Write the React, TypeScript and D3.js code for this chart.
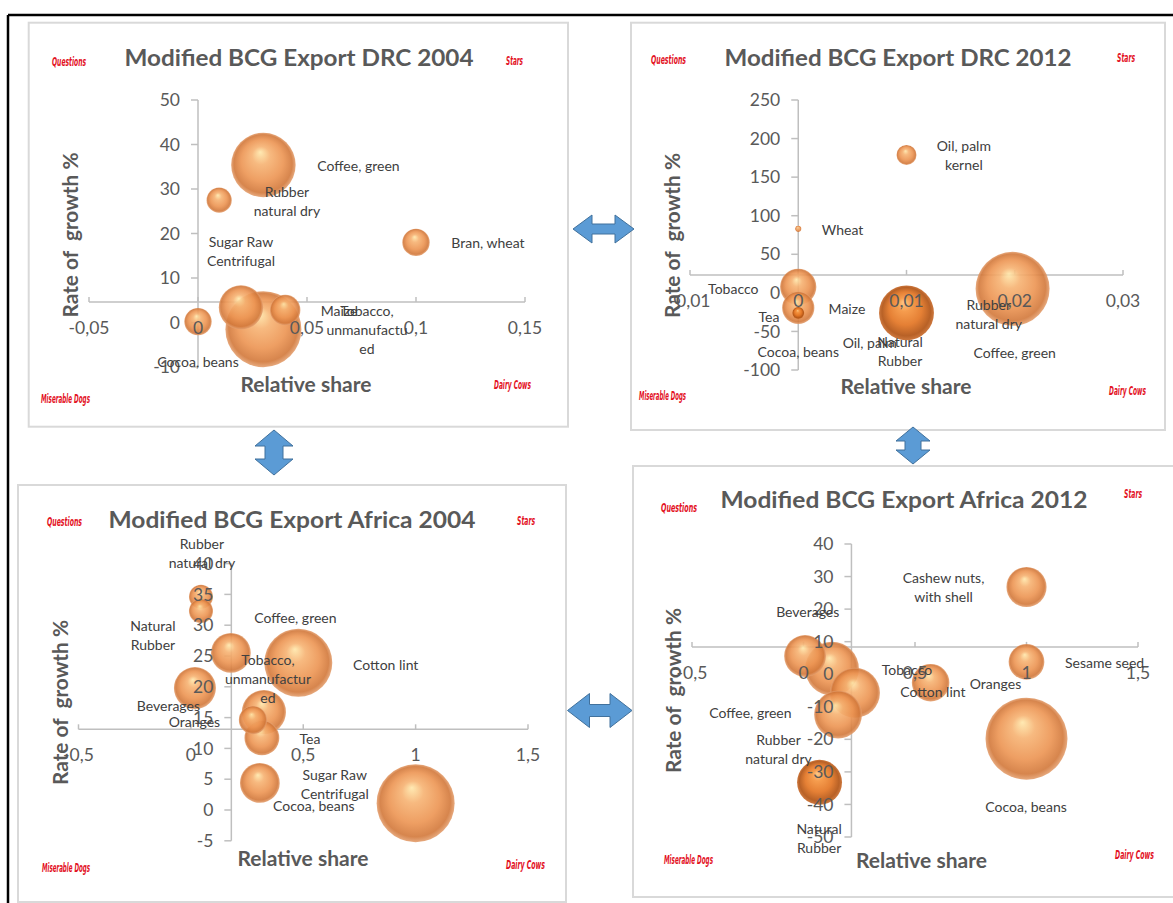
import React from 'react';
import * as d3 from 'd3';

// ---------- DRC 2004 ----------
const drc04Names = ['Coffee, green', 'Rubber natural dry', 'Bran, wheat', 'Sugar Raw Centrifugal', 'Tobacco, unmanufactured', 'Maize', 'Cocoa, beans'];
const drc04Share = [0.03, 0.0097, 0.1, 0.0197, 0.03, 0.04, 0];
const drc04Growth = [35.4, 27.5, 18, 3.4, -1.5, 2.8, 0.2];
const drc04Size = [72, 11, 13, 34, 100, 16, 13];
const drc04LabelText = ['Coffee, green', 'Rubber\nnatural dry', 'Bran, wheat', 'Sugar Raw\nCentrifugal', 'Maize', 'Tobacco,\nunmanufactu\ned', 'Cocoa, beans'];
const drc04LabelX = [0.0736, 0.0408, 0.133, 0.0197, 0.0647, 0.0775, 0];
const drc04LabelY = [35.2, 27.2, 17.9, 16, 2.6, -1.7, -8.9];
const drc04XTicks = [-0.05, 0, 0.05, 0.1, 0.15];
const drc04YTicks = [-10, 0, 10, 20, 30, 40, 50];

// ---------- DRC 2012 ----------
const drc12Names = ['Oil, palm kernel', 'Wheat', 'Tobacco', 'Tea', 'Maize', 'Natural Rubber', 'Coffee, green'];
const drc12Share = [0.01, 0, 0, 0, 0, 0.01, 0.0198];
const drc12Growth = [178.8, 83, 7.8, -19.4, -26, -26, 5.2];
const drc12Size = [7.3, 0.7, 24, 19, 2.6, 55, 100];
const drc12LabelText = ['Oil, palm\nkernel', 'Wheat', 'Tobacco', 'Tea', 'Maize', 'Cocoa, beans', 'Oil, palm', 'Natural\nRubber', 'Rubber\nnatural dry', 'Coffee, green'];
const drc12LabelX = [0.0153, 0.0041, -0.006, -0.0027, 0.0045, 0, 0.0066, 0.0094, 0.0176, 0.02];
const drc12LabelY = [178, 81.6, 5.2, -31, -20.7, -76.4, -64.8, -75.8, -28.5, -77.7];
const drc12XTicks = [-0.01, 0, 0.01, 0.02, 0.03];
const drc12YTicks = [-100, -50, 0, 50, 100, 150, 200, 250];

// ---------- Africa 2004 ----------
const afr04Names = ['Rubber natural dry', 'Natural Rubber', 'Coffee, green', 'Cotton lint', 'Beverages', 'Tobacco, unmanufactured', 'Oranges', 'Tea', 'Sugar Raw Centrifugal', 'Cocoa, beans'];
const afr04Share = [0.045, 0.045, 0.178, 0.478, 0.018, 0.325, 0.276, 0.316, 0.307, 1.0];
const afr04Growth = [34.6, 32.3, 25.5, 23.9, 19.8, 15.9, 14.6, 11.7, 4.4, 1.1];
const afr04Size = [9.5, 9.5, 26, 76, 29, 32, 13, 20, 26, 100];
const afr04LabelText = ['Rubber\nnatural dry', 'Natural\nRubber', 'Coffee, green', 'Cotton lint', 'Beverages', 'Tobacco,\nunmanufactur\ned', 'Oranges', 'Tea', 'Sugar Raw\nCentrifugal', 'Cocoa, beans'];
const afr04LabelX = [0.049, -0.169, 0.465, 0.867, -0.1, 0.343, 0.016, 0.53, 0.64, 0.547];
const afr04LabelY = [41.7, 28.3, 31.2, 23.5, 16.9, 21.3, 14.3, 11.5, 4.1, 0.65];
const afr04XTicks = [-0.5, 0, 0.5, 1, 1.5];
const afr04YTicks = [-5, 0, 5, 10, 15, 20, 25, 30, 35, 40];

// ---------- Africa 2012 ----------
const afr12Names = ['Cashew nuts, with shell', 'Sesame seed', 'Cotton lint', 'Cocoa, beans', 'Beverages', 'Coffee, green', 'Tobacco', 'Rubber natural dry', 'Natural Rubber'];
const afr12Share = [1.0, 1.0, 0.57, 1.0, 0.007, 0.128, 0.231, 0.155, 0.072];
const afr12Growth = [26.8, 3.8, -2.6, -19.8, 5.6, 1.7, -5.7, -12.4, -33.2];
const afr12Size = [24, 19, 21, 100, 26, 43, 37, 34, 30];
const afr12LabelText = ['Cashew nuts,\nwith shell', 'Sesame seed', 'Cotton lint', 'Tobacco', 'Oranges', 'Cocoa, beans', 'Beverages', 'Coffee, green', 'Rubber\nnatural dry', 'Natural\nRubber'];
const afr12LabelX = [0.628, 1.35, 0.58, 0.464, 0.861, 0.998, 0.019, -0.238, -0.112, 0.07];
const afr12LabelY = [26.7, 3.5, -5.4, 1.35, -2.9, -40.7, 19.1, -11.8, -23, -50.6];
const afr12XTicks = [-0.5, 0, 0.5, 1, 1.5];
const afr12YTicks = [-50, -40, -30, -20, -10, 0, 10, 20, 30, 40];

const quadrantText = ['Questions', 'Stars', 'Miserable Dogs', 'Dairy Cows'];
const xTitleText = 'Relative share';
const yTitleText = 'Rate of  growth %';

// ---------- layout (positions / styles) ----------
const charts = [
  {
    title: 'Modified BCG Export DRC 2004', titleX: 299, titleY: 66, titleW: 349,
    box: [28.7, 22.7, 539.3, 404],
    xDomain: [-0.05, 0.15], xRange: [89, 525], yDomain: [-10, 50], yRange: [367, 100],
    xCross: 4.6, yCross: 0, maxR: 38,
    names: drc04Names, xs: drc04Share, ys: drc04Growth, sizes: drc04Size, dark: [] as string[],
    lt: drc04LabelText, lx: drc04LabelX, ly: drc04LabelY, xTicks: drc04XTicks, yTicks: drc04YTicks,
    xTitle: [306, 392], yTitle: [78, 235],
    quad: [[52, 66, 34], [506, 65, 17], [41, 403, 49], [494, 389, 37]],
  },
  {
    title: 'Modified BCG Export DRC 2012', titleX: 898, titleY: 66, titleW: 347,
    box: [631, 22.7, 534, 407.3],
    xDomain: [-0.01, 0.03], xRange: [690, 1123], yDomain: [-100, 250], yRange: [370, 100],
    xCross: 23.3, yCross: 0, maxR: 37,
    names: drc12Names, xs: drc12Share, ys: drc12Growth, sizes: drc12Size, dark: ['Natural Rubber', 'Maize'],
    lt: drc12LabelText, lx: drc12LabelX, ly: drc12LabelY, xTicks: drc12XTicks, yTicks: drc12YTicks,
    xTitle: [906, 394], yTitle: [680, 235.5],
    quad: [[651, 64, 35], [1117, 62, 18], [639, 400, 47], [1109, 395, 37]],
  },
  {
    title: 'Modified BCG Export Africa 2004', titleX: 292, titleY: 528, titleW: 367,
    box: [18, 485, 548, 417],
    xDomain: [-0.5, 1.5], xRange: [78.5, 528], yDomain: [-5, 40], yRange: [840.8, 563.6],
    xCross: 13.1, yCross: 0.18, maxR: 39,
    names: afr04Names, xs: afr04Share, ys: afr04Growth, sizes: afr04Size, dark: [] as string[],
    lt: afr04LabelText, lx: afr04LabelX, ly: afr04LabelY, xTicks: afr04XTicks, yTicks: afr04YTicks,
    xTitle: [303, 866], yTitle: [67.5, 702.5],
    quad: [[47, 526, 35], [517, 525, 18], [42, 872, 48], [506, 869, 39]],
  },
  {
    title: 'Modified BCG Export Africa 2012', titleX: 904, titleY: 508, titleW: 367,
    box: [633, 466, 545, 431],
    xDomain: [-0.5, 1.5], xRange: [692, 1138], yDomain: [-50, 40], yRange: [837, 544],
    xCross: 8.4, yCross: 0.215, maxR: 41,
    names: afr12Names, xs: afr12Share, ys: afr12Growth, sizes: afr12Size, dark: ['Natural Rubber'],
    lt: afr12LabelText, lx: afr12LabelX, ly: afr12LabelY, xTicks: afr12XTicks, yTicks: afr12YTicks,
    xTitle: [921.5, 868], yTitle: [681, 690.5],
    quad: [[661, 512, 36], [1124, 498, 18], [664, 864, 49], [1115, 859, 39]],
  },
];

const GRAY = '#595959';
const LABEL = '#404040';
const AXIS = '#BFBFBF';
const RED = '#E3101E';
const FONT = 'Lato, "Open Sans", sans-serif';

const fmt = (v: number) => String(+v.toFixed(4)).replace('.', ',');

function BubbleChart({ c }: { c: any }) {
  const x = d3.scaleLinear().domain(c.xDomain).range(c.xRange);
  const y = d3.scaleLinear().domain(c.yDomain).range(c.yRange);
  const r = d3.scaleSqrt().domain([0, 100]).range([0, c.maxR]);
  const order = d3.range(c.xs.length).sort((a: number, b: number) => c.sizes[b] - c.sizes[a]);
  const axY = y(c.xCross);
  const axX = x(c.yCross);
  const [bx, by, bw, bh] = c.box;
  const lineH = 19;
  return (
    <g>
      <rect x={bx} y={by} width={bw} height={bh} fill="#fff" stroke="#D9D9D9" strokeWidth={2} />
      <text x={c.titleX} y={c.titleY} textAnchor="middle" fontFamily={FONT} fontWeight="bold" fontSize={23}
        fill={GRAY} textLength={c.titleW} lengthAdjust="spacingAndGlyphs">{c.title}</text>
      {quadrantText.map((t, i) => (
        <text key={t} x={c.quad[i][0]} y={c.quad[i][1]} fontFamily='"DejaVu Sans Condensed", "DejaVu Sans", sans-serif'
          fontStyle="italic" fontWeight="bold" fontSize={12} fill={RED} textLength={c.quad[i][2]}
          lengthAdjust="spacingAndGlyphs">{t}</text>
      ))}
      {/* axes */}
      <line x1={x(c.xDomain[0])} x2={x(c.xDomain[1])} y1={axY} y2={axY} stroke={AXIS} strokeWidth={1.5} />
      {c.xTicks.map((t: number) => (
        <line key={'xt' + t} x1={x(t)} x2={x(t)} y1={axY} y2={axY - 5} stroke={AXIS} strokeWidth={1.5} />
      ))}
      <line x1={axX} x2={axX} y1={y(c.yDomain[0])} y2={y(c.yDomain[1])} stroke={AXIS} strokeWidth={1.5} />
      {c.yTicks.map((t: number) => (
        <line key={'yt' + t} x1={axX - 7} x2={axX} y1={y(t)} y2={y(t)} stroke={AXIS} strokeWidth={1.5} />
      ))}
      {/* bubbles */}
      {order.map((i: number) => (
        <circle key={c.names[i]} cx={x(c.xs[i])} cy={y(c.ys[i])} r={r(c.sizes[i])}
          fill={c.dark.includes(c.names[i]) ? 'url(#bubDark)' : 'url(#bub)'} fillOpacity={0.9} />
      ))}
      {/* tick labels */}
      {c.xTicks.map((t: number) => (
        <text key={'xl' + t} x={x(t)} y={axY + 32} textAnchor="middle" fontFamily={FONT} fontSize={17.5} fill={GRAY}>{fmt(t)}</text>
      ))}
      {c.yTicks.map((t: number) => (
        <text key={'yl' + t} x={axX - 18} y={y(t)} dy="0.35em" textAnchor="end" fontFamily={FONT} fontSize={17.5} fill={GRAY}>{fmt(t)}</text>
      ))}
      {/* data labels */}
      {c.lt.map((t: string, i: number) => {
        const lines = t.split('\n');
        const cy = y(c.ly[i]) - ((lines.length - 1) * lineH) / 2;
        return (
          <text key={'dl' + i} x={x(c.lx[i])} y={cy} textAnchor="middle" fontFamily={FONT} fontSize={14} fill={LABEL}>
            {lines.map((l, j) => (
              <tspan key={j} x={x(c.lx[i])} dy={j === 0 ? '0.35em' : lineH}>{l}</tspan>
            ))}
          </text>
        );
      })}
      {/* axis titles */}
      <text x={c.xTitle[0]} y={c.xTitle[1]} textAnchor="middle" fontFamily={FONT} fontWeight="bold" fontSize={20}
        fill={GRAY} textLength={131} lengthAdjust="spacingAndGlyphs">{xTitleText}</text>
      <text transform={`translate(${c.yTitle[0]},${c.yTitle[1]}) rotate(-90)`} textAnchor="middle" fontFamily={FONT}
        fontWeight="bold" fontSize={20} fill={GRAY} textLength={165} lengthAdjust="spacingAndGlyphs"
        style={{ whiteSpace: 'pre' }}>{yTitleText}</text>
    </g>
  );
}

function hArrow(x0: number, x1: number, cy: number, hh: number, sh: number, hl: number) {
  const p = d3.path();
  p.moveTo(x0, cy);
  p.lineTo(x0 + hl, cy - hh / 2);
  p.lineTo(x0 + hl, cy - sh / 2);
  p.lineTo(x1 - hl, cy - sh / 2);
  p.lineTo(x1 - hl, cy - hh / 2);
  p.lineTo(x1, cy);
  p.lineTo(x1 - hl, cy + hh / 2);
  p.lineTo(x1 - hl, cy + sh / 2);
  p.lineTo(x0 + hl, cy + sh / 2);
  p.lineTo(x0 + hl, cy + hh / 2);
  p.closePath();
  return p.toString();
}
function vArrow(cx: number, y0: number, y1: number, hw: number, sw: number, hl: number) {
  const p = d3.path();
  p.moveTo(cx, y0);
  p.lineTo(cx + hw / 2, y0 + hl);
  p.lineTo(cx + sw / 2, y0 + hl);
  p.lineTo(cx + sw / 2, y1 - hl);
  p.lineTo(cx + hw / 2, y1 - hl);
  p.lineTo(cx, y1);
  p.lineTo(cx - hw / 2, y1 - hl);
  p.lineTo(cx - sw / 2, y1 - hl);
  p.lineTo(cx - sw / 2, y0 + hl);
  p.lineTo(cx - hw / 2, y0 + hl);
  p.closePath();
  return p.toString();
}

export default function App() {
  return (
    <svg width={1173} height={903} style={{ position: 'absolute', left: 0, top: 0, background: '#fff' }}>
      <defs>
        <radialGradient id="bub" cx="0.5" cy="0.5" r="0.5" fx="0.45" fy="0.3">
          <stop offset="0" stopColor="#FFE7AA" />
          <stop offset="0.28" stopColor="#F6B272" />
          <stop offset="0.65" stopColor="#EC9452" />
          <stop offset="0.9" stopColor="#D2783A" />
          <stop offset="1" stopColor="#E4A070" />
        </radialGradient>
        <radialGradient id="bubDark" cx="0.5" cy="0.5" r="0.5" fx="0.45" fy="0.3">
          <stop offset="0" stopColor="#FFC27A" />
          <stop offset="0.25" stopColor="#F4913A" />
          <stop offset="0.6" stopColor="#E2721F" />
          <stop offset="0.88" stopColor="#B0500F" />
          <stop offset="1" stopColor="#C86A2A" />
        </radialGradient>
      </defs>
      <rect x={0} y={0} width={1173} height={903} fill="#fff" />
      <line x1={8} x2={1173} y1={15} y2={15} stroke="#000" strokeWidth={2.5} />
      <line x1={8} x2={8} y1={15} y2={903} stroke="#000" strokeWidth={2.5} />
      {charts.map((c) => <BubbleChart key={c.title} c={c} />)}
      <g fill="#5B9BD5" stroke="#41719C" strokeWidth={1}>
        <path d={hArrow(573, 634, 229, 28, 10, 19)} />
        <path d={hArrow(567.5, 632, 710.5, 34, 12, 22)} />
        <path d={vArrow(274, 430, 475, 38, 18, 16)} />
        <path d={vArrow(913, 427, 464, 34, 16, 14)} />
      </g>
    </svg>
  );
}
